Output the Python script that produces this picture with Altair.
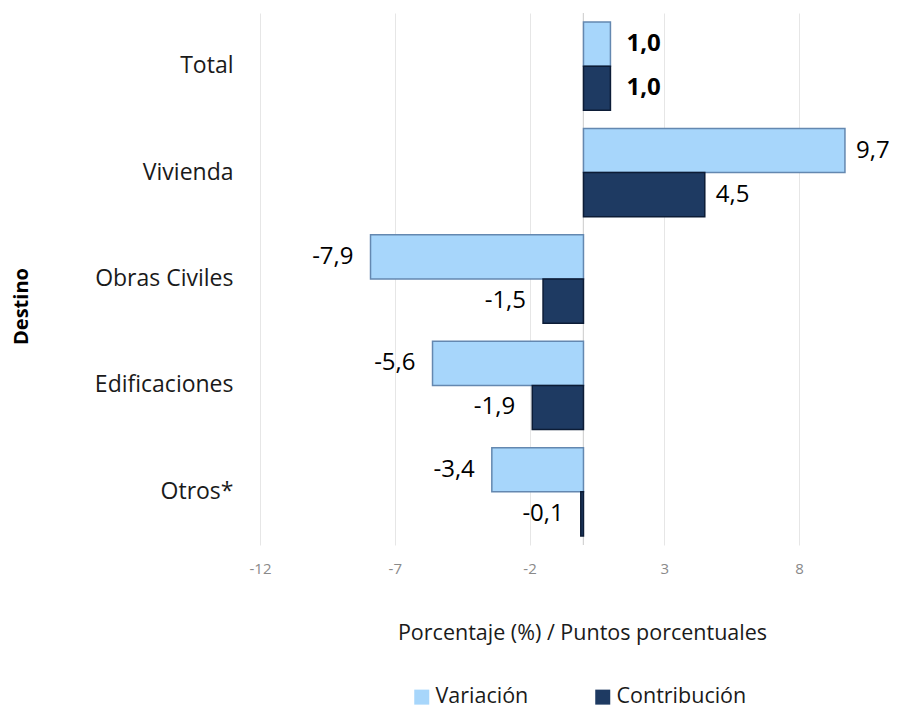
import altair as alt
import pandas as pd

destinos = ["Total", "Vivienda", "Obras Civiles", "Edificaciones", "Otros*"]
variacion = [1.0, 9.7, -7.9, -5.6, -3.4]
contribucion = [1.0, 4.5, -1.5, -1.9, -0.1]
series = ["Variación", "Contribución"]
x_ticks = [-12, -7, -2, 3, 8]

rows = []
for d, v, c in zip(destinos, variacion, contribucion):
    rows.append({"Destino": d, "Serie": series[0], "Valor": v})
    rows.append({"Destino": d, "Serie": series[1], "Valor": c})
df = pd.DataFrame(rows)

FONT = "Open Sans"
color_scale = alt.Scale(domain=series, range=["#a7d6fb", "#1e3a62"])
stroke_scale = alt.Scale(domain=series, range=["#6488b0", "#0c1c36"])
y_scale = alt.Scale(paddingInner=0.17, paddingOuter=0.085)

y_enc = alt.Y(
    "Destino:N",
    sort=destinos,
    scale=y_scale,
    axis=alt.Axis(
        title="Destino",
        titleFont=FONT,
        titleFontSize=20,
        titleFontWeight="bold",
        titleColor="#000000",
        titleX=-229,
        titleY=293,
        titleAngle=-90,
        labelFont=FONT,
        labelFontSize=23,
        labelColor="#1a1a1a",
        labelPadding=27,
        ticks=False,
        domain=False,
        grid=False,
    ),
)
y_off = alt.YOffset("Serie:N", sort=series)
x_enc = alt.X(
    "Valor:Q",
    scale=alt.Scale(domain=[-12, 11], nice=False, zero=False),
    axis=alt.Axis(
        values=x_ticks,
        labelExpr="replace(datum.label, '\u2212', '-')",
        labelFlush=False,
        title="Porcentaje (%) / Puntos porcentuales",
        titleFont=FONT,
        titleFontSize=21.5,
        titleFontWeight="normal",
        titleColor="#1a1a1a",
        titlePadding=46,
        titleX=322,
        labelFont=FONT,
        labelFontSize=15,
        labelColor="#8a8a8a",
        labelPadding=16,
        ticks=False,
        domain=False,
        grid=True,
        gridColor="#e6e6e6",
        gridWidth=1,
    ),
)

base = alt.Chart(df)

bars = base.mark_bar(strokeWidth=1.5).encode(
    x=x_enc,
    y=y_enc,
    yOffset=y_off,
    color=alt.Color(
        "Serie:N",
        scale=color_scale,
        sort=series,
        legend=alt.Legend(
            title=None,
            orient="none",
            direction="horizontal",
            legendX=151,
            legendY=673,
            symbolType="square",
            symbolSize=225,
            symbolStrokeWidth=0,
            labelFont=FONT,
            labelFontSize=21.5,
            labelColor="#1a1a1a",
            columnPadding=63,
            labelOffset=3,
        ),
    ),
    stroke=alt.Stroke("Serie:N", scale=stroke_scale, legend=None),
)

zero_rule = base.mark_rule(color="#d4d4d4", strokeWidth=1).encode(
    x=alt.datum(0)
)

label_common = dict(font=FONT, fontSize=24, baseline="middle", color="#000000")
txt_expr = "replace(replace(format(datum.Valor, '.1f'), '.', ','), '\u2212', '-')"


def label_layer(filt, align, dx, weight):
    return (
        base.transform_filter(filt)
        .transform_calculate(txt=txt_expr)
        .mark_text(align=align, dx=dx, fontWeight=weight, **label_common)
        .encode(
            x="Valor:Q",
            y=alt.Y("Destino:N", sort=destinos),
            yOffset=y_off,
            text="txt:N",
        )
    )


labels_total = label_layer(
    (alt.datum.Valor >= 0) & (alt.datum.Destino == "Total"), "left", 16, "bold"
)
labels_pos = label_layer(
    (alt.datum.Valor >= 0) & (alt.datum.Destino != "Total"), "left", 11, "normal"
)
labels_neg = label_layer(alt.datum.Valor < 0, "right", -17, "normal")

chart = (
    alt.layer(zero_rule, bars, labels_total, labels_pos, labels_neg)
    .properties(
        width=620,
        height=532,
        autosize=alt.AutoSizeParams(type="none"),
        padding={"left": 252, "top": 5, "right": 11, "bottom": 163},
    )
    .configure_view(stroke=None)
)

chart.save("out.html", embed_options={"renderer": "svg", "actions": False})
